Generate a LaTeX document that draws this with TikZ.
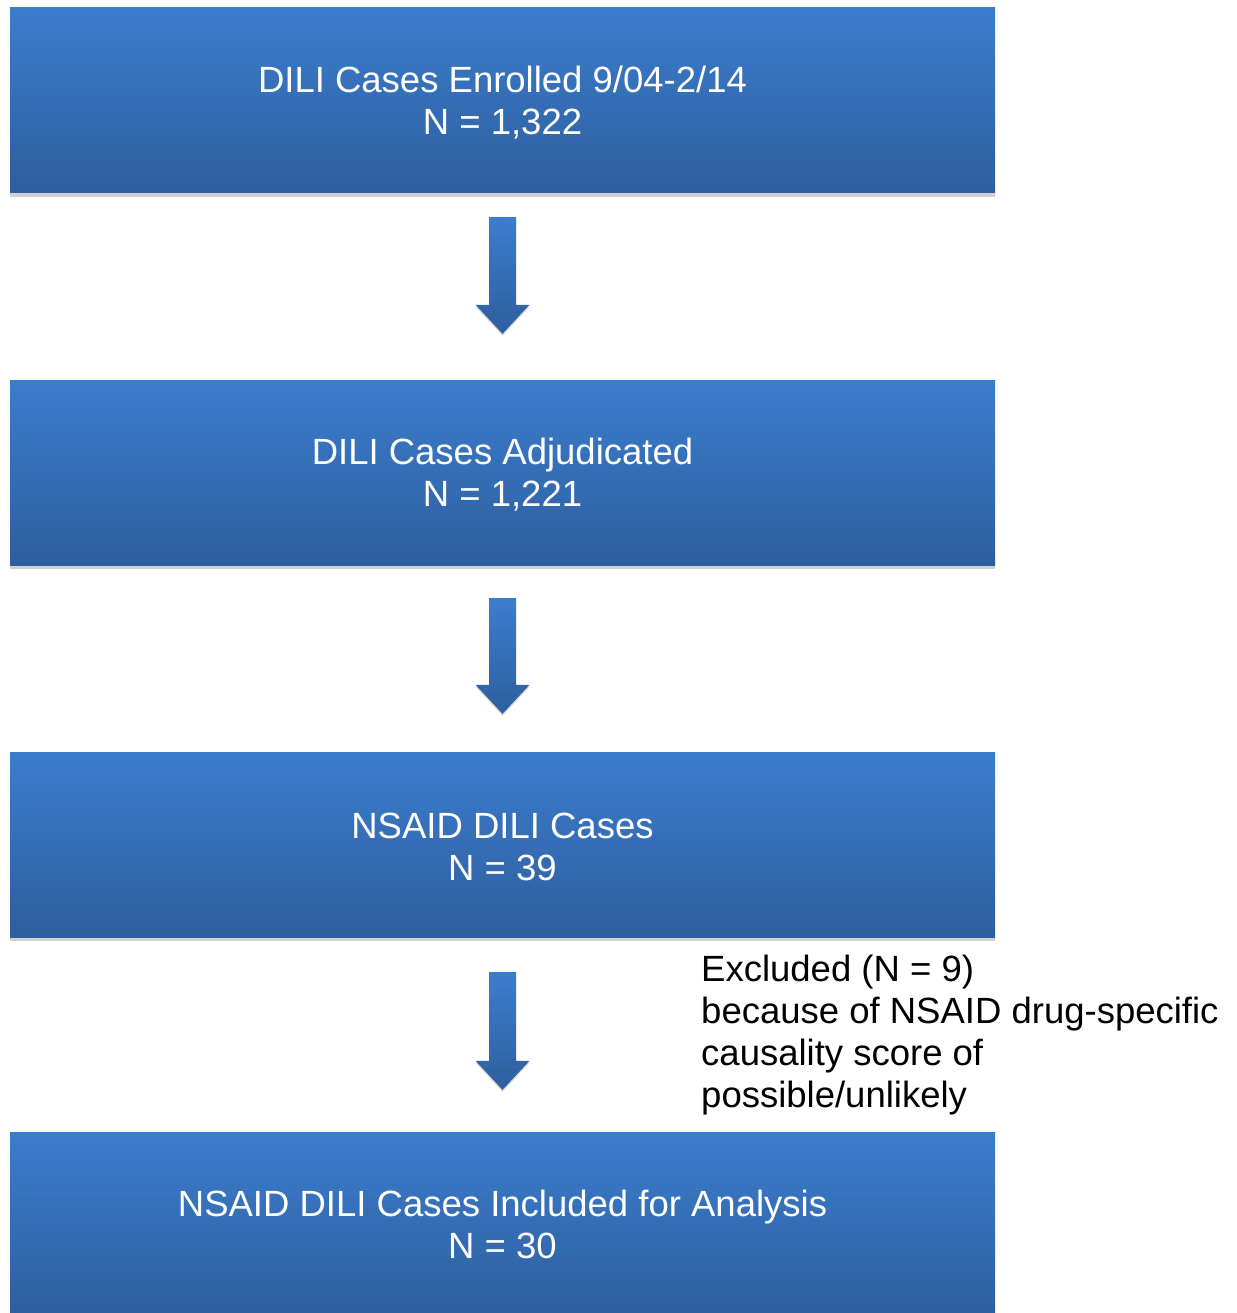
\documentclass[tikz,border=0pt]{standalone}
\usepackage{fontspec}
\setmainfont{Liberation Sans}
\usetikzlibrary{calc,shadows}
\definecolor{boxtop}{RGB}{59,125,205}
\definecolor{boxbot}{RGB}{46,94,158}
\newcommand\dnarrow[2]{%
  \shade[top color=boxtop,bottom color=boxbot,drop shadow={shadow xshift=0pt,shadow yshift=-2pt,opacity=0.15,fill=black}]
    ($(#1)+(-13.5,0)$) -- ($(#1)+(13.5,0)$) -- ($(#2)+(13.5,-29)$) -- ($(#2)+(27,-29)$)
    -- (#2) -- ($(#2)+(-27,-29)$) -- ($(#2)+(-13.5,-29)$) -- cycle;}
\begin{document}
\begin{tikzpicture}[x=1pt,y=-1pt,
  box/.style={rectangle, minimum width=985pt, minimum height=185pt, inner sep=0pt,
    top color=boxtop, bottom color=boxbot,
    drop shadow={shadow xshift=0pt,shadow yshift=-4pt,opacity=0.18,fill=black}},
  boxtext/.style={inner sep=0pt, text=white, align=center,
    font=\fontsize{36.5}{42}\selectfont},
  note/.style={anchor=north west, inner sep=0pt, align=left, text=black,
    font=\fontsize{36.5}{42}\selectfont}]
\useasboundingbox (0,0) rectangle (1236,1313);
\clip (0,0) rectangle (1236,1313);
\node[box] (b1) at (502.5,100.5) {};
\node[boxtext] (t1) at ($(b1)+(0,2)$) {DILI Cases Enrolled 9/04-2/14\\N = 1,322};
\node[box] (b2) at (502.5,472.5) {};
\node[boxtext] (t2) at ($(b2)+(0,2)$) {DILI Cases Adjudicated\\N = 1,221};
\node[box] (b3) at (502.5,844.5) {};
\node[boxtext] (t3) at ($(b3)+(0,2)$) {NSAID DILI Cases\\N = 39};
\node[box] (b4) at (502.5,1224.5) {};
\node[boxtext] (t4) at ($(b4)+(0,0)$) {NSAID DILI Cases Included for Analysis\\N = 30};
\node[note] (ex) at (701,954.5) {Excluded (N = 9)\\because of NSAID drug-specific\\causality score of\\possible/unlikely};
\coordinate (a1s) at ($(b1.south)+(0,24)$);
\coordinate (a1e) at ($(b2.north)+(0,-46)$);
\coordinate (a2s) at ($(b2.south)+(0,33)$);
\coordinate (a2e) at ($(b3.north)+(0,-38)$);
\coordinate (a3s) at ($(b3.south)+(0,35)$);
\coordinate (a3e) at ($(b4.north)+(0,-42)$);
\dnarrow{a1s}{a1e}
\dnarrow{a2s}{a2e}
\dnarrow{a3s}{a3e}
\end{tikzpicture}
\end{document}
